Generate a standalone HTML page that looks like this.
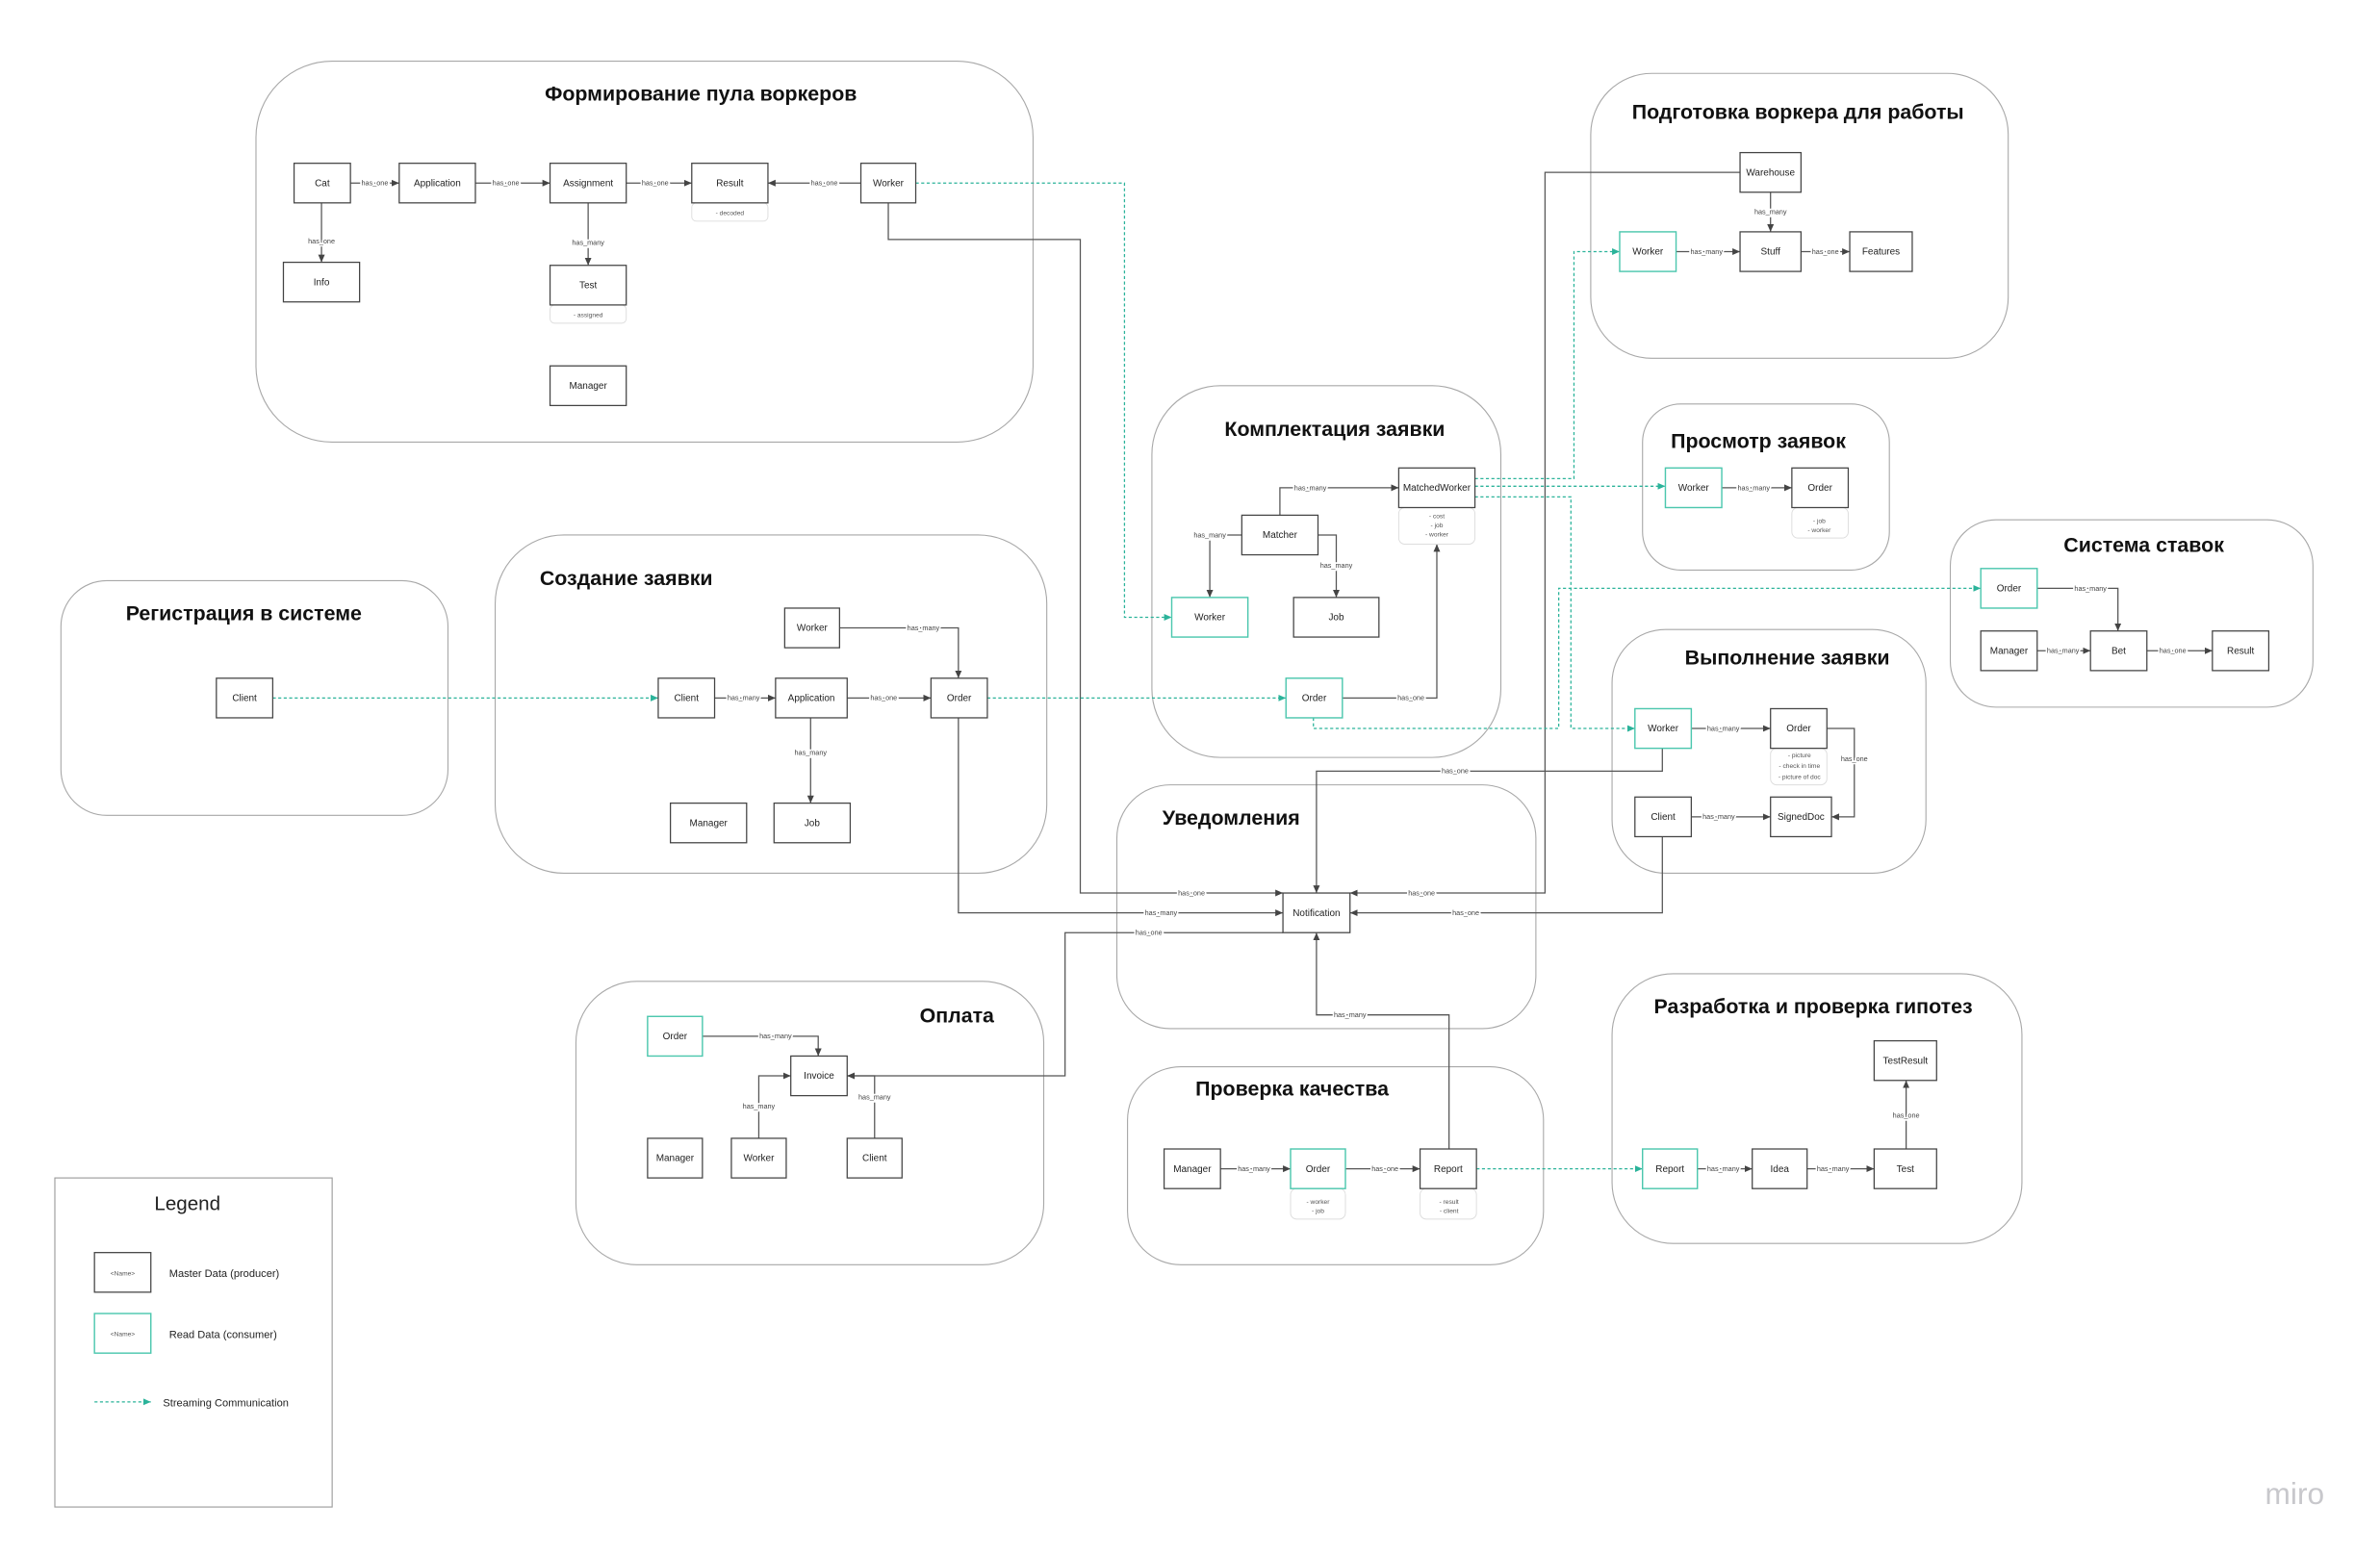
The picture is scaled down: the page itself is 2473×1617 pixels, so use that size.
<!DOCTYPE html>
<html><head><meta charset="utf-8"><style>
html,body{margin:0;padding:0;background:#fff;}
svg{display:block}
.g{fill:none;stroke:#a8a8a8;stroke-width:0.7}
.b{fill:#fff;stroke:#444;stroke-width:0.8}
.tb{fill:#fff;stroke:#4cc7ae;stroke-width:0.9}
.a{fill:#fff;stroke:#ddd;stroke-width:0.6}
.t{font-family:"Liberation Sans",sans-serif;font-size:6.3px;fill:#222;text-anchor:middle}
.h{font-family:"Liberation Sans","Noto Sans CJK SC",sans-serif;font-size:13.5px;font-weight:bold;fill:#111;text-anchor:middle}
.l{font-family:"Liberation Sans",sans-serif;font-size:4.6px;fill:#444;text-anchor:middle;stroke:#fff;stroke-width:2.2;paint-order:stroke}
.s{font-family:"Liberation Sans",sans-serif;font-size:4.2px;fill:#555;text-anchor:middle}
.e{fill:none;stroke:#555;stroke-width:0.8}
.d{fill:none;stroke:#2bb39a;stroke-width:0.8;stroke-dasharray:2,1.6}
</style></head><body>
<svg width="2473" height="1617" viewBox="0 0 1562 1021" xmlns="http://www.w3.org/2000/svg">
<defs>
<marker id="ar" markerWidth="6" markerHeight="6" refX="5" refY="3" orient="auto" markerUnits="userSpaceOnUse"><path d="M0,0.8 L5,3 L0,5.2 z" fill="#444"/></marker>
<marker id="at" markerWidth="6" markerHeight="6" refX="5" refY="3" orient="auto" markerUnits="userSpaceOnUse"><path d="M0,0.8 L5,3 L0,5.2 z" fill="#2bb39a"/></marker>
</defs>

<!-- groups -->
<rect class="g" x="168" y="40" width="510" height="250" rx="50"/>
<rect class="g" x="1044" y="48" width="274" height="187" rx="40"/>
<rect class="g" x="756" y="253" width="229" height="244" rx="45"/>
<rect class="g" x="1078" y="265" width="162" height="109" rx="25"/>
<rect class="g" x="1280" y="341" width="238" height="123" rx="30"/>
<rect class="g" x="40" y="381" width="254" height="154" rx="30"/>
<rect class="g" x="325" y="351" width="362" height="222" rx="45"/>
<rect class="g" x="1058" y="413" width="206" height="160" rx="35"/>
<rect class="g" x="733" y="515" width="275" height="160" rx="35"/>
<rect class="g" x="378" y="644" width="307" height="186" rx="40"/>
<rect class="g" x="740" y="700" width="273" height="130" rx="35"/>
<rect class="g" x="1058" y="639" width="269" height="177" rx="40"/>
<rect x="36" y="773" width="182" height="216" fill="none" stroke="#999" stroke-width="0.7"/>

<!-- titles -->
<text class="h" x="460" y="66">Формирование пула воркеров</text>
<text class="h" x="1180" y="78">Подготовка воркера для работы</text>
<text class="h" x="876" y="286">Комплектация заявки</text>
<text class="h" x="1154" y="294">Просмотр заявок</text>
<text class="h" x="1407" y="362">Система ставок</text>
<text class="h" x="160" y="407">Регистрация в системе</text>
<text class="h" x="411" y="384">Создание заявки</text>
<text class="h" x="1173" y="436">Выполнение заявки</text>
<text class="h" x="808" y="541">Уведомления</text>
<text class="h" x="628" y="671">Оплата</text>
<text class="h" x="848" y="719">Проверка качества</text>
<text class="h" x="1190" y="665">Разработка и проверка гипотез</text>
<text x="123" y="794" style="font-family:'Liberation Sans',sans-serif;font-size:13px;fill:#222;text-anchor:middle">Legend</text>

<!-- solid edges -->
<g class="e" marker-end="url(#ar)">
<path d="M230,120H262"/><path d="M312,120H361"/><path d="M411,120H454"/><path d="M565,120H504"/>
<path d="M211,133V172"/><path d="M386,133V174"/>
<path d="M1162,126V152"/><path d="M1100,165H1142"/><path d="M1182,165H1214"/>
<path d="M840,338V320H918"/><path d="M815,351H794V392"/><path d="M865,351H877V392"/><path d="M881,458H943V357"/>
<path d="M1130,320H1176"/>
<path d="M1337,386H1390V414"/><path d="M1337,427H1372"/><path d="M1409,427H1452"/>
<path d="M469,458H509"/><path d="M556,458H611"/><path d="M551,412H629V445"/><path d="M532,471V527"/>
<path d="M1110,478H1162"/><path d="M1110,536H1162"/><path d="M1199,478H1217V536H1202"/>
<path d="M461,680H537V693"/><path d="M498,747V706H519"/><path d="M574,747V706H556"/>
<path d="M801,767H847"/><path d="M883,767H932"/>
<path d="M1114,767H1150"/><path d="M1186,767H1230"/><path d="M1251,754V709"/>
<path d="M583,133V157H709V586H842"/>
<path d="M629,471V599H842"/>
<path d="M842,612H699V706H556"/>
<path d="M1142,113H1014V586H886"/>
<path d="M1091,549V599H886"/>
<path d="M951,754V666H864V612"/>
<path d="M1091,491V506H864V586"/>
</g>

<!-- dashed -->
<g class="d" marker-end="url(#at)">
<path d="M601,120H738V405H769"/>
<path d="M179,458H432"/>
<path d="M648,458H844"/>
<path d="M968,319H1093"/>
<path d="M968,314H1033V165H1063"/>
<path d="M968,326H1031V478H1073"/>
<path d="M862,471V478H1023V386H1300"/>
<path d="M969,767H1078"/>
<path d="M62,920H99"/>
</g>

<!-- edge labels -->
<g>
<text class="l" x="246" y="121.5">has_one</text><text class="l" x="332" y="121.5">has_one</text>
<text class="l" x="430" y="121.5">has_one</text><text class="l" x="541" y="121.5">has_one</text>
<text class="l" x="211" y="159.5">has_one</text><text class="l" x="386" y="160.5">has_many</text>
<text class="l" x="1162" y="140.5">has_many</text><text class="l" x="1120" y="166.5">has_many</text><text class="l" x="1198" y="166.5">has_one</text>
<text class="l" x="860" y="321.5">has_many</text><text class="l" x="794" y="352.5">has_many</text>
<text class="l" x="877" y="372.5">has_many</text><text class="l" x="926" y="459.5">has_one</text>
<text class="l" x="1151" y="321.5">has_many</text>
<text class="l" x="1372" y="387.5">has_many</text><text class="l" x="1354" y="428.5">has_many</text><text class="l" x="1426" y="428.5">has_one</text>
<text class="l" x="488" y="459.5">has_many</text><text class="l" x="580" y="459.5">has_one</text>
<text class="l" x="606" y="413.5">has_many</text><text class="l" x="532" y="495.5">has_many</text>
<text class="l" x="1131" y="479.5">has_many</text><text class="l" x="1128" y="537.5">has_many</text><text class="l" x="1217" y="499.5">has_one</text>
<text class="l" x="509" y="681.5">has_many</text><text class="l" x="498" y="727.5">has_many</text><text class="l" x="574" y="721.5">has_many</text>
<text class="l" x="823" y="768.5">has_many</text><text class="l" x="909" y="768.5">has_one</text>
<text class="l" x="1131" y="768.5">has_many</text><text class="l" x="1203" y="768.5">has_many</text><text class="l" x="1251" y="733.5">has_one</text>
<text class="l" x="782" y="587.5">has_one</text><text class="l" x="762" y="600.5">has_many</text>
<text class="l" x="754" y="613.5">has_one</text><text class="l" x="933" y="587.5">has_one</text>
<text class="l" x="962" y="600.5">has_one</text><text class="l" x="886" y="667.5">has_many</text>
<text class="l" x="955" y="507.5">has_one</text>
</g>

<!-- attribute boxes -->
<rect class="a" x="454" y="133" width="50" height="12" rx="3"/><text class="s" x="479" y="141">- decoded</text>
<rect class="a" x="361" y="200" width="50" height="12" rx="3"/><text class="s" x="386" y="208">- assigned</text>
<rect class="a" x="918" y="333" width="50" height="24" rx="4"/><text class="s" x="943" y="340">- cost</text><text class="s" x="943" y="346">- job</text><text class="s" x="943" y="352">- worker</text>
<rect class="a" x="1176" y="333" width="37" height="20" rx="4"/><text class="s" x="1194" y="343">- job</text><text class="s" x="1194" y="349">- worker</text>
<rect class="a" x="1162" y="491" width="37" height="24" rx="4"/><text class="s" x="1181" y="497">- picture</text><text class="s" x="1181" y="504">- check in time</text><text class="s" x="1181" y="511">- picture of doc</text>
<rect class="a" x="847" y="780" width="36" height="20" rx="4"/><text class="s" x="865" y="790">- worker</text><text class="s" x="865" y="796">- job</text>
<rect class="a" x="932" y="780" width="37" height="20" rx="4"/><text class="s" x="951" y="790">- result</text><text class="s" x="951" y="796">- client</text>

<!-- nodes -->
<g>
<rect class="b" x="193" y="107" width="37" height="26"/><text class="t" x="211.5" y="122">Cat</text>
<rect class="b" x="262" y="107" width="50" height="26"/><text class="t" x="287" y="122">Application</text>
<rect class="b" x="361" y="107" width="50" height="26"/><text class="t" x="386" y="122">Assignment</text>
<rect class="b" x="454" y="107" width="50" height="26"/><text class="t" x="479" y="122">Result</text>
<rect class="b" x="565" y="107" width="36" height="26"/><text class="t" x="583" y="122">Worker</text>
<rect class="b" x="186" y="172" width="50" height="26"/><text class="t" x="211" y="187">Info</text>
<rect class="b" x="361" y="174" width="50" height="26"/><text class="t" x="386" y="189">Test</text>
<rect class="b" x="361" y="240" width="50" height="26"/><text class="t" x="386" y="255">Manager</text>

<rect class="b" x="1142" y="100" width="40" height="26"/><text class="t" x="1162" y="115">Warehouse</text>
<rect class="tb" x="1063" y="152" width="37" height="26"/><text class="t" x="1081.5" y="167">Worker</text>
<rect class="b" x="1142" y="152" width="40" height="26"/><text class="t" x="1162" y="167">Stuff</text>
<rect class="b" x="1214" y="152" width="41" height="26"/><text class="t" x="1234.5" y="167">Features</text>

<rect class="b" x="918" y="307" width="50" height="26"/><text class="t" x="943" y="322">MatchedWorker</text>
<rect class="b" x="815" y="338" width="50" height="26"/><text class="t" x="840" y="353">Matcher</text>
<rect class="tb" x="769" y="392" width="50" height="26"/><text class="t" x="794" y="407">Worker</text>
<rect class="b" x="849" y="392" width="56" height="26"/><text class="t" x="877" y="407">Job</text>
<rect class="tb" x="844" y="445" width="37" height="26"/><text class="t" x="862.5" y="460">Order</text>

<rect class="tb" x="1093" y="307" width="37" height="26"/><text class="t" x="1111.5" y="322">Worker</text>
<rect class="b" x="1176" y="307" width="37" height="26"/><text class="t" x="1194.5" y="322">Order</text>

<rect class="tb" x="1300" y="373" width="37" height="26"/><text class="t" x="1318.5" y="388">Order</text>
<rect class="b" x="1300" y="414" width="37" height="26"/><text class="t" x="1318.5" y="429">Manager</text>
<rect class="b" x="1372" y="414" width="37" height="26"/><text class="t" x="1390.5" y="429">Bet</text>
<rect class="b" x="1452" y="414" width="37" height="26"/><text class="t" x="1470.5" y="429">Result</text>

<rect class="b" x="142" y="445" width="37" height="26"/><text class="t" x="160.5" y="460">Client</text>

<rect class="b" x="515" y="399" width="36" height="26"/><text class="t" x="533" y="414">Worker</text>
<rect class="b" x="432" y="445" width="37" height="26"/><text class="t" x="450.5" y="460">Client</text>
<rect class="b" x="509" y="445" width="47" height="26"/><text class="t" x="532.5" y="460">Application</text>
<rect class="b" x="611" y="445" width="37" height="26"/><text class="t" x="629.5" y="460">Order</text>
<rect class="b" x="440" y="527" width="50" height="26"/><text class="t" x="465" y="542">Manager</text>
<rect class="b" x="508" y="527" width="50" height="26"/><text class="t" x="533" y="542">Job</text>

<rect class="tb" x="1073" y="465" width="37" height="26"/><text class="t" x="1091.5" y="480">Worker</text>
<rect class="b" x="1162" y="465" width="37" height="26"/><text class="t" x="1180.5" y="480">Order</text>
<rect class="b" x="1073" y="523" width="37" height="26"/><text class="t" x="1091.5" y="538">Client</text>
<rect class="b" x="1162" y="523" width="40" height="26"/><text class="t" x="1182" y="538">SignedDoc</text>

<rect class="b" x="842" y="586" width="44" height="26"/><text class="t" x="864" y="601">Notification</text>

<rect class="tb" x="425" y="667" width="36" height="26"/><text class="t" x="443" y="682">Order</text>
<rect class="b" x="519" y="693" width="37" height="26"/><text class="t" x="537.5" y="708">Invoice</text>
<rect class="b" x="425" y="747" width="36" height="26"/><text class="t" x="443" y="762">Manager</text>
<rect class="b" x="480" y="747" width="36" height="26"/><text class="t" x="498" y="762">Worker</text>
<rect class="b" x="556" y="747" width="36" height="26"/><text class="t" x="574" y="762">Client</text>

<rect class="b" x="764" y="754" width="37" height="26"/><text class="t" x="782.5" y="769">Manager</text>
<rect class="tb" x="847" y="754" width="36" height="26"/><text class="t" x="865" y="769">Order</text>
<rect class="b" x="932" y="754" width="37" height="26"/><text class="t" x="950.5" y="769">Report</text>

<rect class="b" x="1230" y="683" width="41" height="26"/><text class="t" x="1250.5" y="698">TestResult</text>
<rect class="tb" x="1078" y="754" width="36" height="26"/><text class="t" x="1096" y="769">Report</text>
<rect class="b" x="1150" y="754" width="36" height="26"/><text class="t" x="1168" y="769">Idea</text>
<rect class="b" x="1230" y="754" width="41" height="26"/><text class="t" x="1250.5" y="769">Test</text>

<rect class="b" x="62" y="822" width="37" height="26"/><text class="s" x="80.5" y="837">&lt;Name&gt;</text>
<rect class="tb" x="62" y="862" width="37" height="26"/><text class="s" x="80.5" y="877">&lt;Name&gt;</text>
</g>
<text x="111" y="838" style="font-family:'Liberation Sans',sans-serif;font-size:7px;fill:#222">Master Data (producer)</text>
<text x="111" y="878" style="font-family:'Liberation Sans',sans-serif;font-size:7px;fill:#222">Read Data (consumer)</text>
<text x="107" y="923" style="font-family:'Liberation Sans',sans-serif;font-size:7px;fill:#222">Streaming Communication</text>
<text x="1506" y="987" style="font-family:'Liberation Sans',sans-serif;font-size:20px;fill:#c8c8cc;text-anchor:middle">miro</text>
</svg>
</body></html>
